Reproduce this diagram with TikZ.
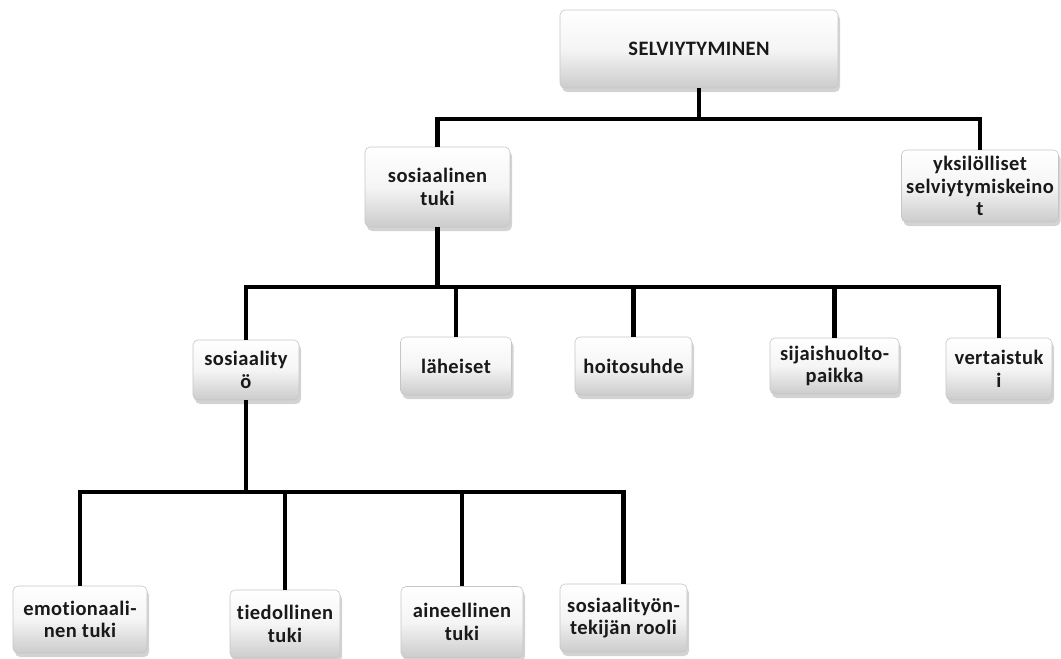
\documentclass[tikz,border=0pt]{standalone}
\usepackage{fontspec}
\setmainfont{Carlito}[LetterSpace=2, Ligatures=NoCommon]
\usetikzlibrary{shadows}
\tikzset{
  box/.style={draw=gray!45, line width=0.6pt, rounded corners=5pt,
    top color=white, bottom color=gray!40, middle color=gray!8,
    drop shadow={opacity=0.35, shadow xshift=2pt, shadow yshift=-4pt},
    align=center, inner sep=1pt,
    font=\fontsize{20.5}{22.5}\selectfont\bfseries, text=black!90},
  link/.style={line width=4.5pt, black}
}
\begin{document}
\begin{tikzpicture}[x=1pt,y=1pt]
\useasboundingbox (0,0) rectangle (1061,-659);
% level 0
\node[box, minimum width=278, minimum height=78] (top) at (699,-49) {SELVIYTYMINEN};
% level 1
\node[box, minimum width=145, minimum height=80] (sos) at (437.5,-187) {sosiaalinen\\tuki};
\node[box, minimum width=157, minimum height=72] (yks) at (980,-186) {yksilölliset\\selviytymiskeino\\t};
% level 2
\node[box, minimum width=106, minimum height=60] (sty) at (246,-370) {sosiaality\\ö};
\node[box, minimum width=111, minimum height=58] (lah) at (456,-366) {läheiset};
\node[box, minimum width=117, minimum height=58] (hoi) at (633.5,-366) {hoitosuhde};
\node[box, minimum width=129, minimum height=56] (sij) at (834.5,-366) {sijaishuolto-\\paikka};
\node[box, minimum width=106, minimum height=62] (ver) at (999,-369) {vertaistuk\\i};
% level 3
\node[box, minimum width=134, minimum height=67] (emo) at (80,-619.5) {emotionaali-\\nen tuki};
\node[box, minimum width=110, minimum height=68] (tie) at (285,-624) {tiedollinen\\tuki};
\node[box, minimum width=122, minimum height=71] (ain) at (462,-622) {aineellinen\\tuki};
\node[box, minimum width=127, minimum height=68] (stt) at (623.5,-618) {sosiaalityön-\\tekijän rooli};
% buses
\coordinate (b0) at (699,-119);
\coordinate (b1) at (437.5,-287);
\coordinate (b2) at (246,-492);
% connectors
\draw[link] (top.south) -- (b0);
\draw[link] (b0) -| (sos.north);
\draw[link] (b0) -| (yks.north);
\draw[link] (sos.south) -- (b1);
\foreach \n in {sty,lah,hoi,sij,ver} \draw[link] (b1) -| (\n.north);
\draw[link] (sty.south) -- (b2);
\foreach \n in {emo,tie,ain,stt} \draw[link] (b2) -| (\n.north);
\end{tikzpicture}
\end{document}
